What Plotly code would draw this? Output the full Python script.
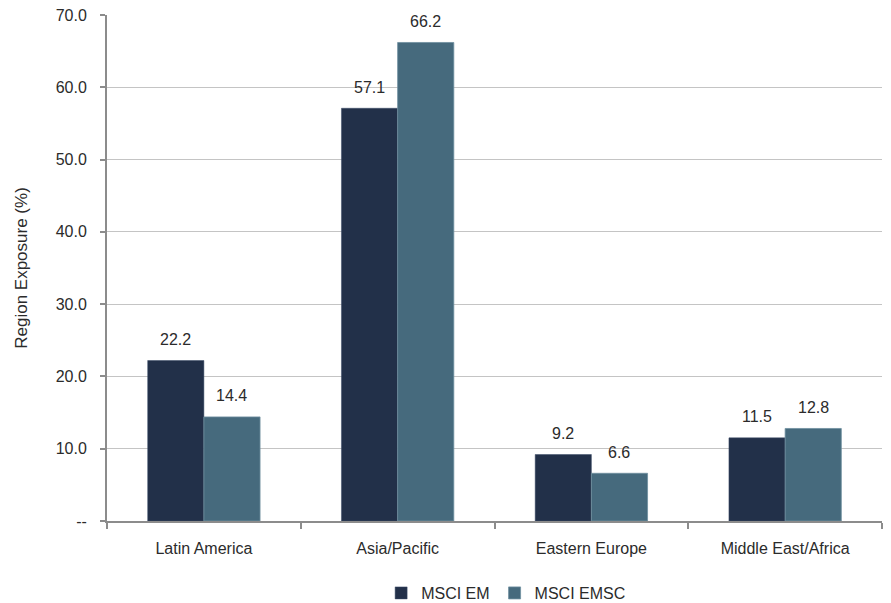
import plotly.graph_objects as go

categories = ["Latin America", "Asia/Pacific", "Eastern Europe", "Middle East/Africa"]
msci_em = [22.2, 57.1, 9.2, 11.5]
msci_emsc = [14.4, 66.2, 6.6, 12.8]
y_tickvals = [0, 10, 20, 30, 40, 50, 60, 70]
y_ticktext = ["--", "10.0", "20.0", "30.0", "40.0", "50.0", "60.0", "70.0"]

font_family = "Liberation Sans, Arial, sans-serif"
text_color = "#2b2b2b"
fs = 16

fig = go.Figure()
fig.add_trace(go.Bar(
    x=categories, y=msci_em, name="MSCI EM",
    marker=dict(color="#223049", line=dict(color="#3a4a66", width=0.5)),
))
fig.add_trace(go.Bar(
    x=categories, y=msci_emsc, name="MSCI EMSC",
    marker=dict(color="#466a7d", line=dict(color="#6f8fa0", width=0.8)),
))

# value labels above bars
for vals, shift in ((msci_em, -28), (msci_emsc, 28)):
    for c, v in zip(categories, vals):
        fig.add_annotation(
            x=c, y=v, xref="x", yref="y", text=f"{v:.1f}", showarrow=False,
            xshift=shift, yshift=21, yanchor="middle",
            font=dict(size=fs, color=text_color, family=font_family),
        )

fig.update_layout(
    width=891, height=603,
    margin=dict(l=107, r=9, t=15, b=82, autoexpand=False),
    paper_bgcolor="white", plot_bgcolor="white",
    barmode="group", bargap=0.42, bargroupgap=0,
    font=dict(family=font_family, size=fs, color=text_color),
    showlegend=True,
    legend=dict(orientation="h", x=0.515, xanchor="center", y=-0.1423, yanchor="middle",
                font=dict(size=fs, color=text_color), traceorder="normal"),
)
fig.update_xaxes(
    showline=True, linecolor="#8c8c8c", linewidth=2,
    ticks="outside", tickson="boundaries", ticklen=6, tickcolor="#8c8c8c", tickwidth=2,
    ticklabelstandoff=12,
    tickfont=dict(size=fs, color=text_color), showgrid=False,
)
fig.update_yaxes(
    range=[0, 70], tickvals=y_tickvals, ticktext=y_ticktext,
    showline=True, linecolor="#8c8c8c", linewidth=2,
    ticks="outside", ticklen=5, tickcolor="#8c8c8c", tickwidth=2,
    ticklabelstandoff=10,
    showgrid=True, gridcolor="#c4c4c4", gridwidth=1,
    tickfont=dict(size=fs, color=text_color),
    title=dict(text="Region Exposure (%)", font=dict(size=17, color=text_color), standoff=24),
    zeroline=False,
)

fig.write_html("out.html")
